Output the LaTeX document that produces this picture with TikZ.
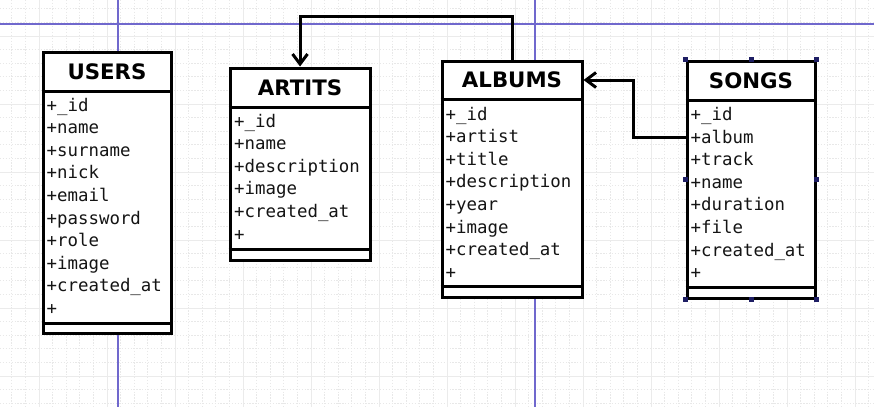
\documentclass[tikz,border=0pt]{standalone}
\usepackage{fontspec}
\setmainfont{DejaVu Sans}
\setmonofont{DejaVu Sans Mono}
\usetikzlibrary{arrows.meta}
\definecolor{pagebreak}{RGB}{112,104,205}
\definecolor{handle}{RGB}{30,30,100}
\begin{document}
\begin{tikzpicture}[x=1pt,y=-1pt,
  tbl/.style={draw=black, fill=white, line width=3pt, inner sep=0pt},
  sepline/.style={draw=black, line width=3pt},
  hdr/.style={font=\fontsize{21.3}{21}\selectfont\bfseries, text=black, inner sep=0pt, anchor=base},
  attr/.style={font=\fontsize{17.4}{17}\selectfont\ttfamily, text=black!92, inner sep=0pt, anchor=base west},
  conn/.style={draw=black, line width=3pt, -{Straight Barb[length=10pt,width=15pt]}},
  minorgrid/.style={draw=black!9, line width=0.7pt, dash pattern=on 1.3pt off 1.6pt},
  majorgrid/.style={draw=black!8, line width=1pt},
  pbreak/.style={draw=pagebreak, line width=1.1pt},
  hnd/.style={fill=handle, draw=none, minimum size=5pt, inner sep=0pt}
]
\useasboundingbox (0,0) rectangle (874,407);
\fill[white] (0,0) rectangle (874,407);
% grid
\foreach \i in {-2,...,61} {\draw[minorgrid] ({39+13.6*\i},0) -- ({39+13.6*\i},407);}
\foreach \i in {-2,...,27} {\draw[minorgrid] (0,{36+13.6*\i}) -- (874,{36+13.6*\i});}
\foreach \i in {0,...,12} {\draw[majorgrid] ({39+68*\i},0) -- ({39+68*\i},407);}
\foreach \i in {0,...,5} {\draw[majorgrid] (0,{36+68*\i}) -- (874,{36+68*\i});}
% page break lines
\draw[pbreak] (0,24) -- (874,24);
\draw[pbreak] (118,0) -- (118,407);
\draw[pbreak] (535,0) -- (535,407);

% USERS
\node[tbl, minimum width=128pt, minimum height=281pt] (users) at (107,192.5) {};
\draw[sepline] (users.west |- 0,91) -- (users.east |- 0,91);
\draw[sepline] (users.west |- 0,323) -- (users.east |- 0,323);
\node[hdr] (usersT) at (107,79) {USERS};
\foreach \t [count=\k from 0] in {+\_id,+name,+surname,+nick,+email,+password,+role,+image,+created\_at,+}
  {\node[attr] (u\k) at (46.5,{111+22.6*\k}) {\t};}

% ARTITS
\node[tbl, minimum width=140pt, minimum height=192pt] (artits) at (300,164) {};
\draw[sepline] (artits.west |- 0,107) -- (artits.east |- 0,107);
\draw[sepline] (artits.west |- 0,249) -- (artits.east |- 0,249);
\node[hdr] (artitsT) at (300,95) {ARTITS};
\foreach \t [count=\k from 0] in {+\_id,+name,+description,+image,+created\_at,+}
  {\node[attr] (a\k) at (234,{127+22.6*\k}) {\t};}

% ALBUMS
\node[tbl, minimum width=140pt, minimum height=236pt] (albums) at (512,179) {};
\draw[sepline] (albums.west |- 0,99) -- (albums.east |- 0,99);
\draw[sepline] (albums.west |- 0,286) -- (albums.east |- 0,286);
\node[hdr] (albumsT) at (512,87.5) {ALBUMS};
\foreach \t [count=\k from 0] in {+\_id,+artist,+title,+description,+year,+image,+created\_at,+}
  {\node[attr] (b\k) at (445.5,{120+22.6*\k}) {\t};}

% SONGS
\node[tbl, minimum width=128pt, minimum height=237pt] (songs) at (751,179.5) {};
\draw[sepline] (songs.west |- 0,100) -- (songs.east |- 0,100);
\draw[sepline] (songs.west |- 0,287) -- (songs.east |- 0,287);
\node[hdr] (songsT) at (751,88.3) {SONGS};
\foreach \t [count=\k from 0] in {+\_id,+album,+track,+name,+duration,+file,+created\_at,+}
  {\node[attr] (s\k) at (690.5,{120.5+22.6*\k}) {\t};}

% selection handles on SONGS
\foreach \a [count=\k] in {north west,north,north east,west,east,south west,south,south east}
  {\node[hnd] (h\k) at (songs.\a) {};}

% connectors
\coordinate (topbend) at (0,16);
\draw[conn] (albums.north) -- (albums.north |- topbend) -| (artits.north);
\coordinate (albumrow) at (0,137);
\coordinate (elbow) at (633,80);
\draw[conn] (songs.west |- albumrow) -| (elbow) -- (albums.east |- elbow);
\end{tikzpicture}
\end{document}
